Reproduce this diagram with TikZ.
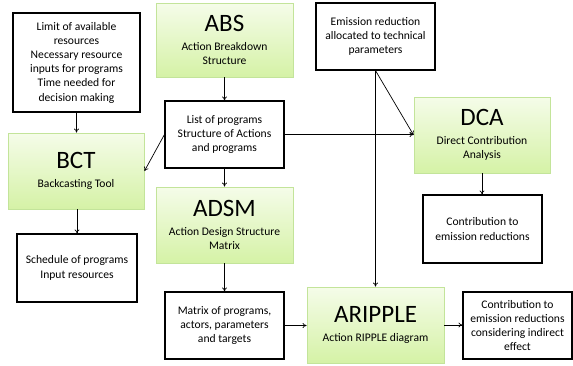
\documentclass[tikz,border=0pt]{standalone}
\usepackage{fontspec}
\setmainfont{Carlito}
\usetikzlibrary{arrows.meta}
\definecolor{gtop}{HTML}{F5FCE9}
\definecolor{gbot}{HTML}{D5F2A6}
\definecolor{gborder}{HTML}{C3E49A}
\begin{document}
\begin{tikzpicture}[x=1pt,y=-1pt,
  wbox/.style={draw=black, line width=1.1pt, fill=white, align=center, inner sep=2pt,
    font=\fontsize{11.6}{14.2}\selectfont},
  gbox/.style={draw=gborder, line width=0.9pt, top color=gtop, bottom color=gbot,
    align=center, inner sep=2pt, font=\fontsize{11.6}{14.2}\selectfont},
  arr/.style={-{To[length=4pt,width=5pt]}, line width=0.7pt}
]
\useasboundingbox (0,0) rectangle (573,365);

\node[wbox, minimum width=127, minimum height=99] (lim) at (76.5,62.5)
  {Limit of available\\resources\\Necessary resource\\inputs for programs\\Time needed for\\decision making};
\node[gbox, minimum width=137, minimum height=74] (abs) at (224.5,40)
  {{\fontsize{25}{27}\selectfont ABS}\\[5pt]Action Breakdown\\Structure};
\node[wbox, minimum width=119, minimum height=67] (list) at (224.5,134.5)
  {List of programs\\Structure of Actions\\and programs};
\node[gbox, minimum width=136, minimum height=76] (bct) at (76,171)
  {{\fontsize{25}{27}\selectfont BCT}\\[5pt]Backcasting Tool};
\node[wbox, minimum width=119, minimum height=67] (emi) at (375.5,36.5)
  {Emission reduction\\allocated to technical\\parameters};
\node[gbox, minimum width=136, minimum height=76] (dca) at (482,135)
  {{\fontsize{25}{27}\selectfont DCA}\\[5pt]Direct Contribution\\Analysis};
\node[wbox, minimum width=120, minimum height=68] (sch) at (77,268)
  {Schedule of programs\\Input resources};
\node[gbox, minimum width=137, minimum height=76] (adsm) at (224.5,225)
  {{\fontsize{25}{27}\selectfont ADSM}\\[5pt]Action Design Structure\\Matrix};
\node[wbox, minimum width=119, minimum height=67] (mat) at (224.5,325.5)
  {Matrix of programs,\\actors, parameters\\and targets};
\node[wbox, minimum width=119, minimum height=68] (con) at (482.5,229)
  {Contribution to\\emission reductions};
\node[gbox, minimum width=137, minimum height=76] (arip) at (375.5,325)
  {{\fontsize{25}{27}\selectfont ARIPPLE}\\[5pt]Action RIPPLE diagram};
\node[wbox, minimum width=109, minimum height=67] (cind) at (517.5,325.5)
  {Contribution to\\emission reductions\\considering indirect\\effect};

\draw[arr] (lim.south) -- (lim.south |- bct.north);
\draw[arr] (abs.south) -- (list.north);
\draw[arr] (list.west) -- (bct.east);
\draw[arr] (list.east) -- (list.east -| dca.west);
\draw[arr] (emi.south) -- (dca.west);
\draw[arr] (emi.south) -- (arip.north);
\draw[arr] (list.south) -- (adsm.north);
\draw[arr] (bct.south -| sch.north) -- (sch.north);
\draw[arr] (adsm.south) -- (mat.north);
\draw[arr] (dca.south) -- (dca.south |- con.north);
\draw[arr] (mat.east) -- (mat.east -| arip.west);
\draw[arr] (arip.east) -- (arip.east -| cind.west);
\end{tikzpicture}
\end{document}
